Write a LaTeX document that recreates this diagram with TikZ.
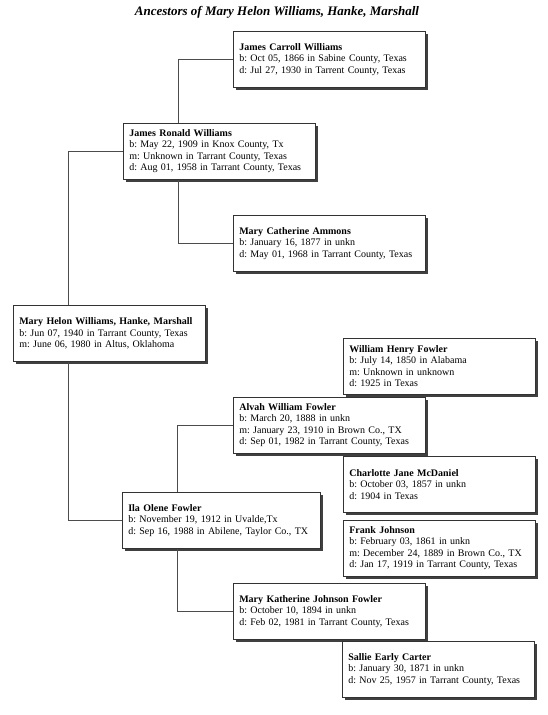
\documentclass[tikz,border=0pt]{standalone}
\usepackage{fontspec}
\setmainfont{Liberation Serif}
\usetikzlibrary{shadows, positioning}
\frenchspacing

\tikzset{
  person/.style={draw=black!80, line width=0.6pt, fill=white, anchor=north west,
    text width=180pt, minimum height=56pt, inner xsep=6pt, inner ysep=2pt, align=left,
    font=\fontsize{10}{11.5}\selectfont,
    drop shadow={shadow xshift=3pt, shadow yshift=-3pt, fill=black!75, opacity=1}},
  link/.style={draw=black!70, line width=0.6pt},
}

\begin{document}
\begin{tikzpicture}[x=1pt, y=-1pt]
  \useasboundingbox (0,0) rectangle (547,715);

  \node[font=\fontsize{13}{15}\selectfont\bfseries\itshape] (title) at (277,12) {Ancestors of Mary Helon Williams, Hanke, Marshall};

  % paternal side
  \node[person] (jcw) at (233,31) {\textbf{James Carroll Williams}\\
    b: Oct 05, 1866 in Sabine County, Texas\\
    d: Jul 27, 1930 in Tarrent County, Texas};
  \node[person] (jrw) at (123,123) {\textbf{James Ronald Williams}\\
    b: May 22, 1909 in Knox County, Tx\\
    m: Unknown in Tarrant County, Texas\\
    d: Aug 01, 1958 in Tarrant County, Texas};
  \node[person] (mca) at (233,215) {\textbf{Mary Catherine Ammons}\\
    b: January 16, 1877 in unkn\\
    d: May 01, 1968 in Tarrant County, Texas};

  \node[person] (mhw) at (13,305) {\textbf{Mary Helon Williams, Hanke, Marshall}\\
    b: Jun 07, 1940 in Tarrant County, Texas\\
    m: June 06, 1980 in Altus, Oklahoma};

  % maternal side
  \node[person] (whf) at (343,338) {\textbf{William Henry Fowler}\\
    b: July 14, 1850 in Alabama\\
    m: Unknown in unknown\\
    d: 1925 in Texas};
  \node[person] (awf) at (233,397) {\textbf{Alvah William Fowler}\\
    b: March 20, 1888 in unkn\\
    m: January 23, 1910 in Brown Co., TX\\
    d: Sep 01, 1982 in Tarrant County, Texas};
  \node[person] (cjm) at (343,456) {\textbf{Charlotte Jane McDaniel}\\
    b: October 03, 1857 in unkn\\
    d: 1904 in Texas};
  \node[person, text width=186pt] (iof) at (122,492) {\textbf{Ila Olene Fowler}\\
    b: November 19, 1912 in Uvalde,Tx\\
    d: Sep 16, 1988 in Abilene, Taylor Co., TX};
  \node[person] (fj) at (343,520) {\textbf{Frank Johnson}\\
    b: February 03, 1861 in unkn\\
    m: December 24, 1889 in Brown Co., TX\\
    d: Jan 17, 1919 in Tarrant County, Texas};
  \node[person] (mkjf) at (233,583) {\textbf{Mary Katherine Johnson Fowler}\\
    b: October 10, 1894 in unkn\\
    d: Feb 02, 1981 in Tarrant County, Texas};
  \node[person] (sec) at (342,641) {\textbf{Sallie Early Carter}\\
    b: January 30, 1871 in unkn\\
    d: Nov 25, 1957 in Tarrant County, Texas};

  % connectors
  \draw[link] (jcw.west) -| ([xshift=55pt]jrw.north west);
  \draw[link] (mca.west) -| ([xshift=55pt]jrw.south west);
  \draw[link] (jrw.west) -| ([xshift=55pt]mhw.north west);
  \draw[link] (iof.west) -| ([xshift=55pt]mhw.south west);
  \draw[link] (awf.west) -| ([xshift=55pt]iof.north west);
  \draw[link] (mkjf.west) -| ([xshift=55pt]iof.south west);
\end{tikzpicture}
\end{document}
